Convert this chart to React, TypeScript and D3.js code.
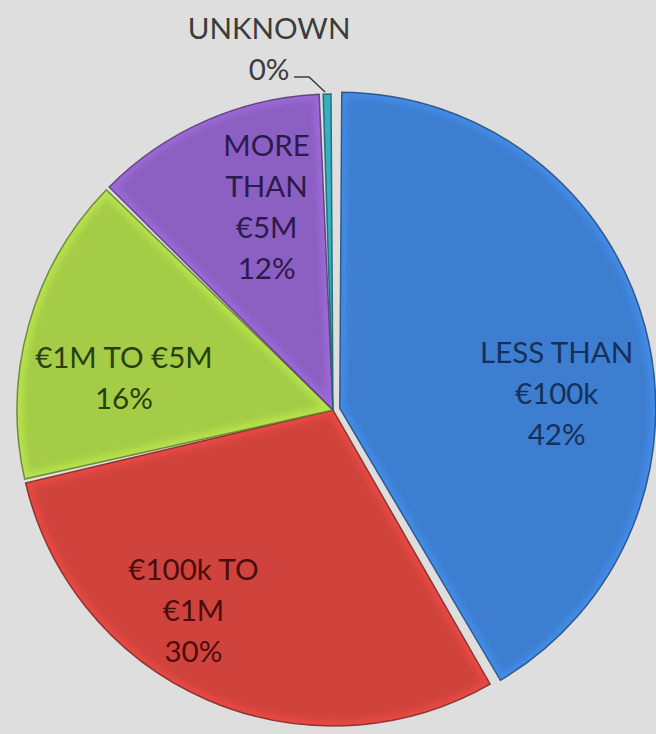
import React from "react";
import * as d3 from "d3";

const categories = ["LESS THAN €100k", "€100k TO €1M", "€1M TO €5M", "MORE THAN €5M", "UNKNOWN"];
const labelLines = [["LESS THAN", "€100k"], ["€100k TO", "€1M"], ["€1M TO €5M"], ["MORE", "THAN", "€5M"], ["UNKNOWN"]];
const values = [42, 30, 16, 12, 0.4];
const colors = ["#3D7ED0", "#D0433D", "#A5CC46", "#8C5FC2", "#2F9FB0"];
const textColors = ["#15305A", "#4A0D0D", "#28400E", "#2C1A4C", "#3C3C3C"];

// layout (label placement: angle in degrees clockwise from 12 o'clock, radius fraction)
const labelAngle = [85.4, 215, 279, 342, 350];
const labelRadius = [0.71, 0.77, 0.67, 0.68, 1.165];
const explode = [7, 0, 0, 0, 0];

const W = 656, H = 734;
const CX = 333, CY = 410, R = 316;
const LINE = 41;
const FONT = "Lato, 'Liberation Sans', Arial, sans-serif";

export default function App() {
  const total = d3.sum(values);
  const pie = d3.pie<number>().sort(null).value((d) => d).padAngle(4 / R);
  const arcs = pie(values);
  const arc = d3.arc<d3.PieArcDatum<number>>().innerRadius(0).outerRadius(R).padRadius(R);
  const pct = d3.format(".0%");

  return (
    <svg width={W} height={H} style={{ position: "fixed", left: 0, top: 0, background: "#DEDEDE" }}>
      <defs>
        <filter id="blur" x="-10%" y="-10%" width="120%" height="120%">
          <feGaussianBlur stdDeviation="3" />
        </filter>
        {arcs.map((a, i) => (
          <clipPath id={`clip${i}`} key={i}>
            <path d={arc(a) || ""} />
          </clipPath>
        ))}
      </defs>
      <rect width={W} height={H} fill="#DEDEDE" />
      <g transform={`translate(${CX},${CY})`}>
        {arcs.map((a, i) => {
          const mid = (a.startAngle + a.endAngle) / 2;
          const [ox, oy] = d3.pointRadial(mid, explode[i]);
          const d = arc(a) || "";
          const c = d3.color(colors[i])!;
          return (
            <g key={categories[i]} transform={`translate(${ox},${oy})`}>
              <path d={d} fill={colors[i]} />
              <path
                d={d}
                fill="none"
                stroke={c.brighter(0.5).formatHex()}
                strokeWidth={12}
                clipPath={`url(#clip${i})`}
                filter="url(#blur)"
                opacity={0.55}
              />
              <path d={d} fill="none" stroke={c.darker(1.4).formatHex()} strokeWidth={1.5} strokeOpacity={0.85} />
            </g>
          );
        })}
        {arcs.map((a, i) => {
          const [lx, ly] = d3.pointRadial((labelAngle[i] * Math.PI) / 180, labelRadius[i] * R);
          const lines = [...labelLines[i], pct(values[i] / total)];
          const n = lines.length;
          return (
            <text
              key={`t${i}`}
              fontFamily={FONT}
              fontSize={29.5}
              fill={textColors[i]}
              textAnchor="middle"
              dominantBaseline="central"
            >
              {lines.map((s, j) => (
                <tspan key={j} x={lx} y={ly + (j - (n - 1) / 2) * LINE}>
                  {s}
                </tspan>
              ))}
            </text>
          );
        })}
        {(() => {
          // leader line for the tiny "UNKNOWN" slice
          const a = arcs[4];
          const mid = (a.startAngle + a.endAngle) / 2;
          const [px, py] = d3.pointRadial(mid, R);
          const [lx, ly] = d3.pointRadial((labelAngle[4] * Math.PI) / 180, labelRadius[4] * R);
          const y0 = ly + LINE / 2 + 9;
          const line = d3.line();
          return (
            <path
              d={line([[lx + 25, y0], [lx + 40, y0], [px - 2, py - 2]]) || ""}
              fill="none"
              stroke="#3C3C3C"
              strokeWidth={1.5}
            />
          );
        })()}
      </g>
    </svg>
  );
}
